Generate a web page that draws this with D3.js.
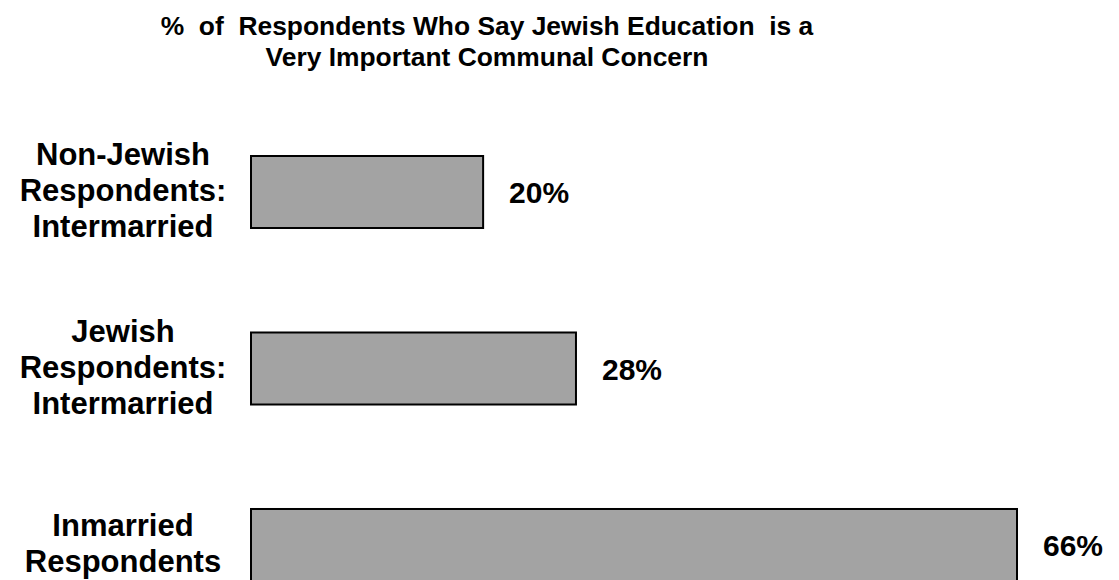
<!DOCTYPE html>
<html>
<head>
<meta charset="utf-8">
<script src="https://cdn.jsdelivr.net/npm/d3@7"></script>
<style>
  html, body { margin: 0; padding: 0; background: #fff; }
  svg { display: block; }
  text { font-family: "Liberation Sans", Arial, sans-serif; font-weight: bold; fill: #000; white-space: pre; }
</style>
</head>
<body>
<svg id="chart" width="1119" height="580"></svg>
<script>
const titleLines = ["%  of  Respondents Who Say Jewish Education  is a", "Very Important Communal Concern"];
const categories = ["Non-Jewish Respondents: Intermarried", "Jewish Respondents: Intermarried", "Inmarried Respondents"];
const categoryLines = [["Non-Jewish", "Respondents:", "Intermarried"], ["Jewish", "Respondents:", "Intermarried"], ["Inmarried", "Respondents"]];
const values = [20, 28, 66];
const valueLabels = ["20%", "28%", "66%"];

const svg = d3.select("#chart");

const x = d3.scaleLinear().domain([0, 66]).range([251, 1017]);
const y = d3.scaleBand().domain(categories).range([156, 581]).paddingInner(0.592).paddingOuter(0);

// title
svg.append("g").selectAll("text").data(titleLines).join("text")
  .attr("x", 487)
  .attr("y", (d, i) => 35 + i * 31)
  .attr("text-anchor", "middle")
  .style("font-size", "26.4px")
  .text(d => d);

// bars
svg.append("g").selectAll("rect").data(categories).join("rect")
  .attr("x", x(0))
  .attr("y", d => y(d))
  .attr("width", (d, i) => x(values[i]) - x(0))
  .attr("height", y.bandwidth())
  .attr("fill", "#a3a3a3")
  .attr("stroke", "#000")
  .attr("stroke-width", 2);

// value labels
svg.append("g").selectAll("text").data(categories).join("text")
  .attr("x", (d, i) => x(values[i]) + 26)
  .attr("y", d => y(d) + y.bandwidth() / 2 + 11)
  .style("font-size", "30px")
  .text((d, i) => valueLabels[i]);

// category labels
const lh = 36;
const lab = svg.append("g").selectAll("text").data(categories).join("text")
  .attr("text-anchor", "middle")
  .style("font-size", "31px");
lab.each(function(d, i) {
  const lines = categoryLines[i];
  const cy = y(d) + y.bandwidth() / 2;
  const b1 = cy + 9 - (lines.length - 1) * lh / 2;
  d3.select(this).selectAll("tspan").data(lines).join("tspan")
    .attr("x", 123)
    .attr("y", (l, j) => b1 + j * lh)
    .text(l => l);
});
</script>
</body>
</html>
